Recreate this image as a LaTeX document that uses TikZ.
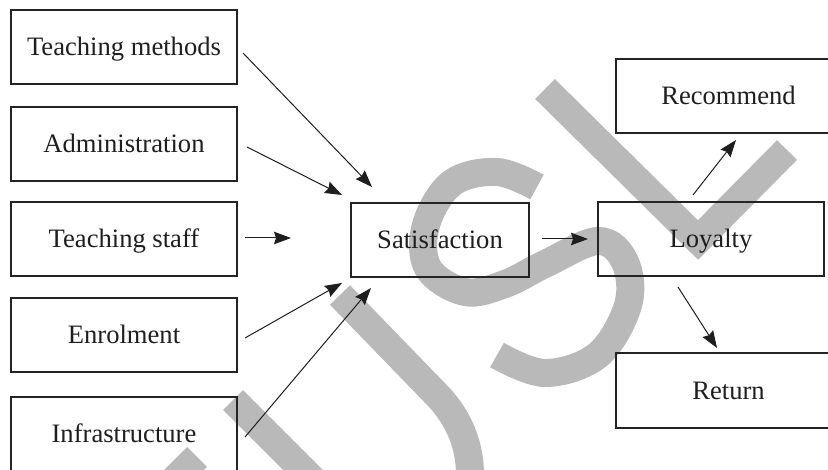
\documentclass[tikz,border=0pt]{standalone}
\usepackage{fontspec}
\setmainfont{Liberation Serif}
\usetikzlibrary{arrows.meta}
\definecolor{wm}{RGB}{185,185,185}
\definecolor{boxline}{RGB}{35,35,35}
\definecolor{ink}{RGB}{30,30,30}
\begin{document}
\begin{tikzpicture}[x=1pt,y=-1pt,
  box/.style={draw=boxline, line width=1.2pt, inner sep=0pt,
    minimum width=226pt, minimum height=74pt,
    text height=17.5pt, text depth=0pt,
    font=\fontsize{26.6pt}{30pt}\selectfont, text=ink},
  arr/.style={draw=ink, line width=1pt, -{Stealth[length=17pt,width=12.5pt,inset=2pt]}},
  wmark/.style={draw=wm, line width=28pt, line cap=butt, line join=miter}]
\useasboundingbox (0,0) rectangle (828,470);
\clip (0,0) rectangle (828,470);

% watermark strokes (behind everything)
\draw[wmark] (197,457) -- (160,494);
\draw[wmark] (233,400) -- (330,497) -- (470,497) -- (470,475)
   .. controls (470,440) and (455,413) .. (435,393) -- (340,295);
\draw[wmark] plot[smooth, tension=0.6] coordinates {(537,187) (497,172) (452,183) (426,225) (428,268) (465,292) (505,284) (545,264) (598,241) (625,262) (628,305) (598,355) (545,373) (497,355)};
\draw[wmark] (545,89) -- (698,240) -- (787,150);

% boxes
\node[box] (tm)  at (124,47)  {Teaching methods};
\node[box] (adm) at (124,144) {Administration};
\node[box] (ts)  at (124,239) {Teaching staff};
\node[box] (enr) at (124,335) {Enrolment};
\node[box] (inf) at (124,434) {Infrastructure};
\node[box, minimum width=178pt] (sat) at (440,240) {Satisfaction};
\node[box] (loy) at (711,239) {Loyalty};
\node[box, minimum width=225pt] (rec) at (728.5,96) {Recommend};
\node[box, minimum width=225pt, minimum height=75pt] (ret) at (728.5,390.5) {Return};

% connector end points
\coordinate (tm-o)  at (243,53);   \coordinate (sat-i1) at (372,187);
\coordinate (adm-o) at (247,147);  \coordinate (sat-i2) at (342,195);
\coordinate (ts-o)  at (245,238);  \coordinate (sat-i3) at (291,238);
\coordinate (enr-o) at (245,338);  \coordinate (sat-i4) at (342,283);
\coordinate (inf-o) at (245,437);  \coordinate (sat-i5) at (371,288);
\coordinate (sat-o) at (542,239);  \coordinate (loy-i)  at (588,239);
\coordinate (loy-o1) at (693,195); \coordinate (rec-i)  at (736,140);
\coordinate (loy-o2) at (678,287); \coordinate (ret-i)  at (717,348);

\draw[arr] (tm-o) -- (sat-i1);
\draw[arr] (adm-o) -- (sat-i2);
\draw[arr] (ts-o) -- (sat-i3);
\draw[arr] (enr-o) -- (sat-i4);
\draw[arr] (inf-o) -- (sat-i5);
\draw[arr] (sat-o) -- (loy-i);
\draw[arr] (loy-o1) -- (rec-i);
\draw[arr] (loy-o2) -- (ret-i);
\end{tikzpicture}
\end{document}
